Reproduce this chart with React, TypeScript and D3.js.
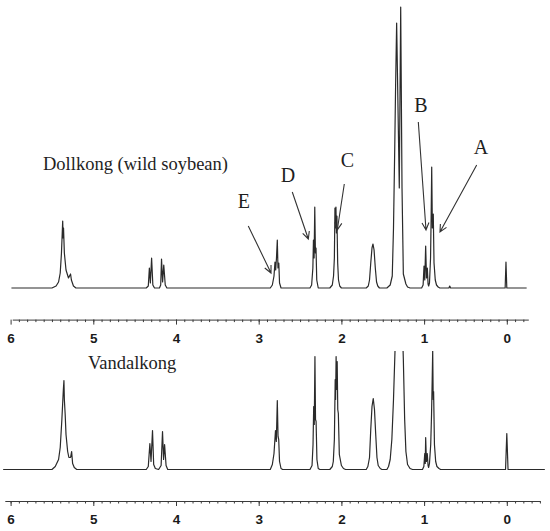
import React, { useEffect, useRef } from 'react';
import * as d3 from 'd3';

type Pt = [number, number]; // [ppm, intensity]

// Dollkong (wild soybean) spectrum, vertices
const dollkong: Pt[] = [
  [5.99, 0],
  [5.5, 0], [5.45, 2], [5.42, 6], [5.4, 15], [5.385, 35], [5.37, 67], [5.365, 50], [5.36, 60], [5.35, 35],
  [5.33, 18], [5.3, 10], [5.275, 14], [5.265, 8], [5.24, 2], [5.21, 0],
  [4.36, 0], [4.335, 2], [4.322, 20], [4.31, 5], [4.295, 30], [4.28, 3], [4.26, 0],
  [4.2, 0], [4.185, 3], [4.175, 29], [4.162, 6], [4.148, 23], [4.13, 3], [4.11, 0],
  [2.86, 0], [2.835, 3], [2.815, 12], [2.803, 26], [2.795, 18], [2.785, 30], [2.775, 48], [2.767, 20],
  [2.757, 25], [2.748, 5], [2.73, 0],
  [2.38, 0], [2.36, 3], [2.345, 20], [2.338, 48], [2.33, 30], [2.322, 81], [2.314, 35], [2.307, 40],
  [2.298, 8], [2.28, 0],
  [2.14, 0], [2.11, 3], [2.095, 12], [2.085, 30], [2.078, 80], [2.072, 60], [2.066, 81], [2.06, 55],
  [2.054, 72], [2.045, 25], [2.035, 8], [2.02, 2], [2.0, 0],
  [1.7, 0], [1.675, 2], [1.66, 8], [1.645, 25], [1.63, 40], [1.618, 44], [1.605, 38], [1.59, 20],
  [1.575, 6], [1.56, 2], [1.54, 0],
  [1.45, 0], [1.41, 3], [1.385, 12], [1.37, 60], [1.355, 140], [1.345, 200], [1.332, 265], [1.3, 100],
  [1.283, 281], [1.267, 100], [1.251, 14], [1.22, 4], [1.2, 1], [1.17, 0],
  [1.03, 0], [1.012, 3], [1.001, 22], [0.992, 8], [0.981, 42], [0.971, 10], [0.961, 20], [0.952, 4],
  [0.945, 2], [0.935, 5], [0.922, 30], [0.915, 70], [0.908, 121], [0.9, 60], [0.889, 74], [0.88, 25],
  [0.865, 8], [0.85, 3], [0.83, 1], [0.81, 0],
  [0.7, 0], [0.69, 2], [0.68, 0],
  [0.02, 0], [0.01, 26], [0.0, 0],
  [-0.24, 0],
];

// Vandalkong spectrum
const vandalkong: Pt[] = [
  [6.09, 0],
  [5.5, 0], [5.46, 3], [5.42, 10], [5.4, 22], [5.38, 50], [5.362, 80], [5.355, 89], [5.35, 70], [5.34, 55],
  [5.33, 35], [5.31, 18], [5.295, 12], [5.275, 12], [5.262, 18], [5.25, 6], [5.23, 2], [5.2, 0],
  [4.36, 0], [4.335, 3], [4.316, 26], [4.302, 8], [4.284, 39], [4.27, 5], [4.25, 1], [4.21, 0],
  [4.18, 4], [4.163, 38], [4.15, 10], [4.138, 25], [4.12, 4], [4.1, 0],
  [2.86, 0], [2.835, 5], [2.815, 16], [2.797, 39], [2.787, 28], [2.775, 69], [2.766, 33], [2.758, 30],
  [2.748, 8], [2.73, 1], [2.71, 0],
  [2.38, 0], [2.355, 4], [2.343, 25], [2.335, 63], [2.328, 45], [2.32, 113], [2.313, 50], [2.306, 48],
  [2.296, 10], [2.28, 1], [2.26, 0],
  [2.14, 0], [2.11, 3], [2.098, 8], [2.085, 30], [2.075, 90], [2.07, 70], [2.064, 113], [2.058, 80],
  [2.051, 108], [2.044, 60], [2.037, 56], [2.025, 15], [2.0, 4], [1.975, 1], [1.95, 0],
  [1.7, 0], [1.68, 3], [1.66, 12], [1.645, 40], [1.63, 63], [1.615, 71], [1.6, 60], [1.585, 35],
  [1.57, 12], [1.555, 4], [1.53, 1], [1.51, 0],
  [1.45, 0], [1.43, 3], [1.41, 10], [1.39, 30], [1.37, 70], [1.352, 118], [1.34, 220], [1.33, 400],
  [1.305, 150], [1.285, 420], [1.265, 150], [1.251, 110], [1.235, 50], [1.22, 18], [1.2, 5], [1.17, 1],
  [1.14, 0],
  [1.02, 0], [1.003, 3], [0.992, 16], [0.986, 6], [0.981, 32], [0.972, 8], [0.962, 16], [0.952, 4],
  [0.945, 2], [0.935, 6], [0.92, 25], [0.91, 55], [0.902, 90], [0.896, 119], [0.89, 70], [0.885, 78],
  [0.875, 25], [0.86, 8], [0.845, 3], [0.82, 1], [0.8, 0],
  [0.015, 0], [0.0, 36], [-0.015, 0],
  [-0.46, 0],
];

const majorTicks = [6, 5, 4, 3, 2, 1, 0];
const panelNames = ['Dollkong (wild soybean)', 'Vandalkong'];

// peak annotations on the upper spectrum (ppm, intensity)
const peakLetters = ['E', 'D', 'C', 'B', 'A'];
const letterPpm = [3.178, 2.646, 1.926, 1.037, 0.312];
const letterHeight = [80, 106, 121, 176, 134.5];
const tailPpm = [3.126, 2.594, 1.965, 1.07, 0.364];
const tailHeight = [62, 96, 104, 166, 123];
const tipPpm = [2.851, 2.4, 2.05, 0.977, 0.808];
const tipHeight = [15, 49, 58, 58, 56];

const App: React.FC = () => {
  const svgRef = useRef<SVGSVGElement>(null);

  useEffect(() => {
    if (!svgRef.current) return;
    const svg = d3.select(svgRef.current);
    svg.selectAll('*').remove();

    const ink = '#2a2a2a';
    const x = d3.scaleLinear().domain([6, 0]).range([10.6, 506.8]);
    const yTop = d3.scaleLinear().domain([0, 282]).range([288, 6]);
    const yBot = d3.scaleLinear().domain([0, 118]).range([469.5, 351.5]);

    svg.append('defs').append('clipPath').attr('id', 'botClip')
      .append('rect').attr('x', 0).attr('y', 351).attr('width', 550).attr('height', 180);

    const drawSpectrum = (data: Pt[], y: d3.ScaleLinear<number, number>, clip?: string) => {
      const line = d3.line<Pt>().x(d => x(d[0])).y(d => y(d[1]));
      const p = svg.append('path')
        .datum(data)
        .attr('fill', 'none')
        .attr('stroke', ink)
        .attr('stroke-width', 1.2)
        .attr('stroke-linejoin', 'round')
        .attr('d', line);
      if (clip) p.attr('clip-path', `url(#${clip})`);
    };

    drawSpectrum(dollkong, yTop);
    drawSpectrum(vandalkong, yBot, 'botClip');

    // ppm axes
    const drawAxis = (yPos: number, from: number, to: number) => {
      const s = x.copy().domain([from, to]).range([x(from), x(to)]);
      const minor = d3.range(Math.ceil(to * 10), Math.floor(from * 10) + 1).map(i => i / 10);
      const gMinor = svg.append('g').attr('transform', `translate(0,${yPos})`)
        .call(d3.axisBottom(s).tickValues(minor).tickSize(2.5).tickSizeOuter(0).tickFormat(() => ''));
      gMinor.selectAll('path,line').attr('stroke', '#3a3a3a');
      const gMajor = svg.append('g').attr('transform', `translate(0,${yPos})`)
        .call(d3.axisBottom(x).tickValues(majorTicks).tickSize(5).tickPadding(8.5).tickFormat(d3.format('d')));
      gMajor.select('.domain').remove();
      gMajor.selectAll('line').attr('stroke', '#3a3a3a');
      gMajor.selectAll('text')
        .attr('fill', '#1a1a1a')
        .style('font-family', 'Arial, "Liberation Sans", sans-serif')
        .style('font-weight', 'bold')
        .style('font-size', '13.5px');
    };
    drawAxis(319.6, 5.98, -0.26);
    drawAxis(501, 6.07, -0.4);

    // panel names
    const serif = '"Times New Roman", "Liberation Serif", serif';
    svg.append('text').attr('x', 43).attr('y', 170).text(panelNames[0])
      .style('font-family', serif).style('font-size', '18.5px').attr('fill', '#1e1e1e');
    svg.append('text').attr('x', 88).attr('y', 368.5).text(panelNames[1])
      .style('font-family', serif).style('font-size', '18.5px').attr('fill', '#1e1e1e');

    // peak letters and arrows
    peakLetters.forEach((lab, i) => {
      svg.append('text')
        .attr('x', x(letterPpm[i]))
        .attr('y', yTop(letterHeight[i]))
        .attr('text-anchor', 'middle')
        .style('font-family', serif)
        .style('font-size', '20px')
        .attr('fill', '#1e1e1e')
        .text(lab);

      const x0 = x(tailPpm[i]), y0 = yTop(tailHeight[i]);
      const x1 = x(tipPpm[i]), y1 = yTop(tipHeight[i]);
      const ang = Math.atan2(y1 - y0, x1 - x0);
      const len = 8, spread = 0.45;
      const a1: [number, number] = [x1 - len * Math.cos(ang - spread), y1 - len * Math.sin(ang - spread)];
      const a2: [number, number] = [x1 - len * Math.cos(ang + spread), y1 - len * Math.sin(ang + spread)];
      svg.append('path')
        .attr('d', `M${x0},${y0}L${x1},${y1}M${a1[0]},${a1[1]}L${x1},${y1}L${a2[0]},${a2[1]}`)
        .attr('fill', 'none')
        .attr('stroke', '#333')
        .attr('stroke-width', 1.1);
    });
  }, []);

  return (
    <svg
      ref={svgRef}
      width={550}
      height={531}
      style={{ position: 'absolute', left: 0, top: 0, background: '#fff' }}
    />
  );
};

export default App;
